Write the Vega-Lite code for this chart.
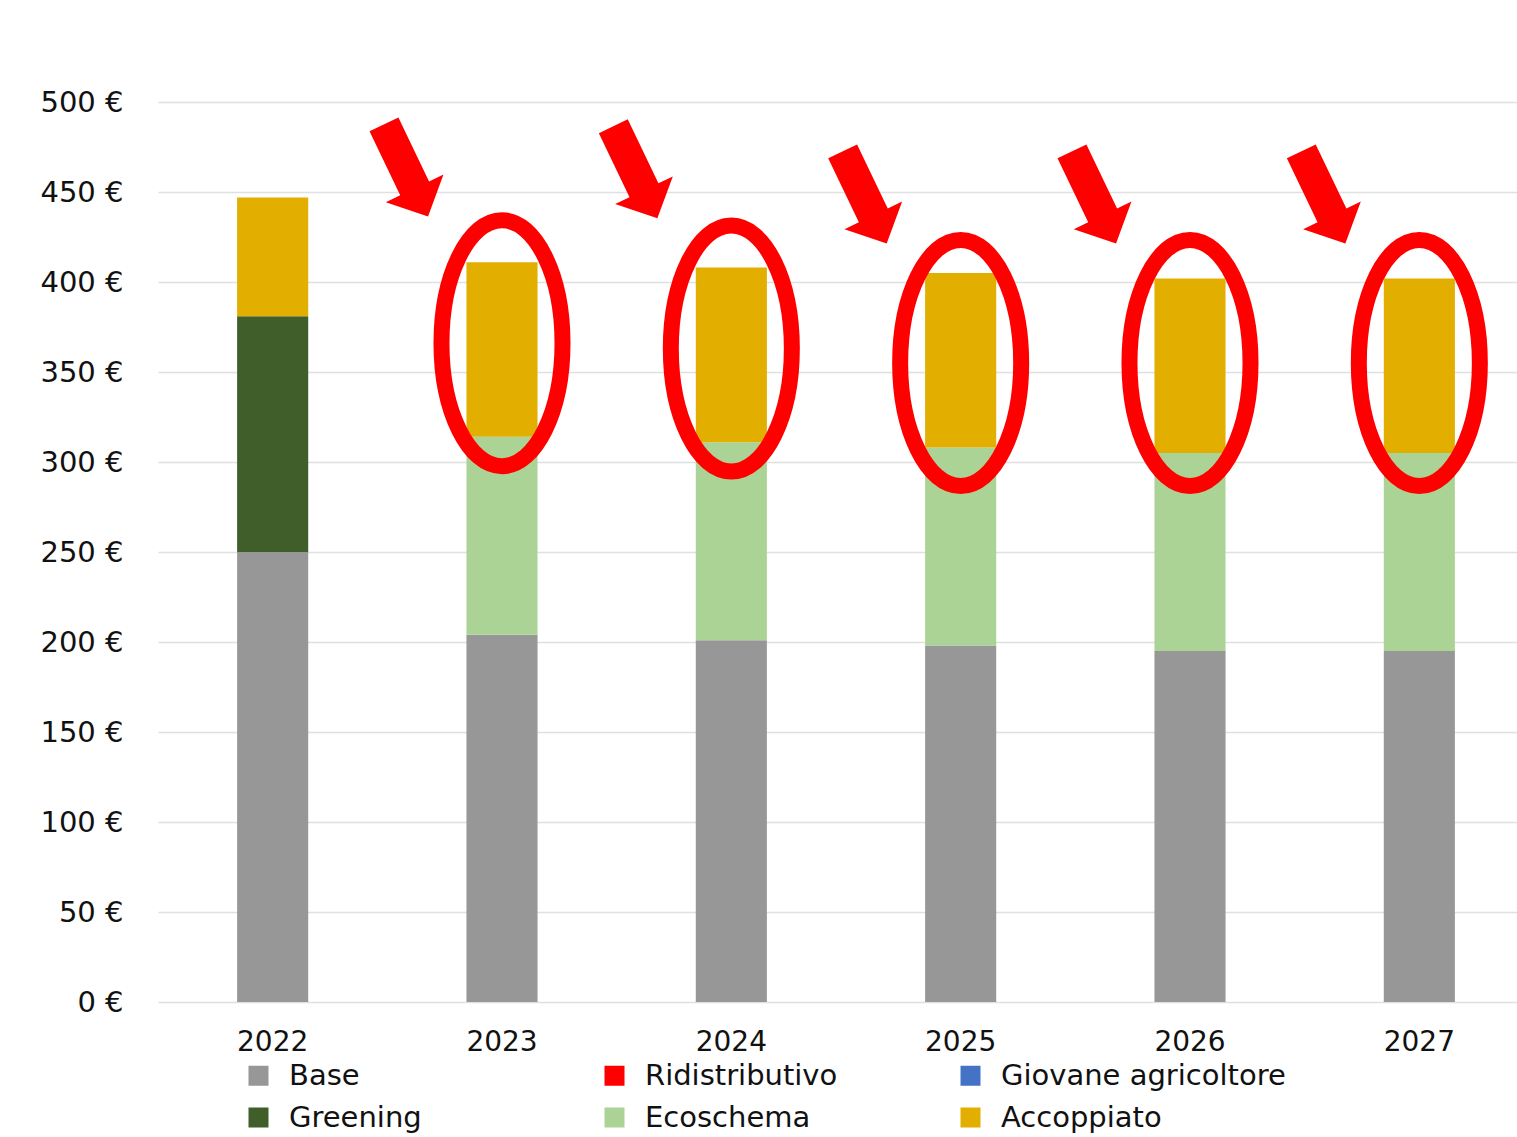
{
  "$schema": "https://vega.github.io/schema/vega-lite/v6.json",
  "width": 1376,
  "height": 900,
  "autosize": "none",
  "padding": {"left": 158, "top": 102, "right": 0, "bottom": 135},
  "background": "white",
  "config": {
    "view": {"stroke": null},
    "font": "DejaVu Sans"
  },
  "datasets": {
    "payments": [
      {"year": "2022", "component": "Base", "series_no": 1, "value": 250},
      {"year": "2022", "component": "Greening", "series_no": 2, "value": 131},
      {"year": "2022", "component": "Accoppiato", "series_no": 6, "value": 66},
      {"year": "2023", "component": "Base", "series_no": 1, "value": 204},
      {"year": "2023", "component": "Ecoschema", "series_no": 4, "value": 110},
      {"year": "2023", "component": "Accoppiato", "series_no": 6, "value": 97},
      {"year": "2024", "component": "Base", "series_no": 1, "value": 201},
      {"year": "2024", "component": "Ecoschema", "series_no": 4, "value": 110},
      {"year": "2024", "component": "Accoppiato", "series_no": 6, "value": 97},
      {"year": "2025", "component": "Base", "series_no": 1, "value": 198},
      {"year": "2025", "component": "Ecoschema", "series_no": 4, "value": 110},
      {"year": "2025", "component": "Accoppiato", "series_no": 6, "value": 97},
      {"year": "2026", "component": "Base", "series_no": 1, "value": 195},
      {"year": "2026", "component": "Ecoschema", "series_no": 4, "value": 110},
      {"year": "2026", "component": "Accoppiato", "series_no": 6, "value": 97},
      {"year": "2027", "component": "Base", "series_no": 1, "value": 195},
      {"year": "2027", "component": "Ecoschema", "series_no": 4, "value": 110},
      {"year": "2027", "component": "Accoppiato", "series_no": 6, "value": 97}
    ],
    "circles": [
      {"year": "2023", "value": 366},
      {"year": "2024", "value": 363},
      {"year": "2025", "value": 355},
      {"year": "2026", "value": 355},
      {"year": "2027", "value": 355}
    ],
    "arrows": [
      {"year": "2023", "value": 462},
      {"year": "2024", "value": 461},
      {"year": "2025", "value": 447},
      {"year": "2026", "value": 447},
      {"year": "2027", "value": 447}
    ]
  },
  "layer": [
    {
      "data": {"name": "payments"},
      "mark": {"type": "bar"},
      "encoding": {
        "x": {
          "field": "year",
          "type": "ordinal",
          "scale": {"paddingInner": 0.69, "paddingOuter": 0.345},
          "axis": {
            "title": null,
            "labelAngle": 0,
            "labelFont": "DejaVu Sans",
            "labelFontSize": 28,
            "labelColor": "#111111",
            "labelPadding": 26,
            "ticks": false,
            "tickSize": 0,
            "domain": false,
            "grid": false
          }
        },
        "y": {
          "field": "value",
          "type": "quantitative",
          "stack": "zero",
          "scale": {"domain": [0, 500]},
          "axis": {
            "title": null,
            "values": [0, 50, 100, 150, 200, 250, 300, 350, 400, 450, 500],
            "labelExpr": "datum.value + ' €'",
            "labelFont": "DejaVu Sans",
            "labelFontSize": 29,
            "labelColor": "#111111",
            "labelPadding": 35,
            "ticks": false,
            "tickSize": 0,
            "domain": false,
            "grid": true,
            "gridColor": "#e0e0e0",
            "gridWidth": 1.5
          }
        },
        "order": {"field": "series_no", "type": "quantitative", "sort": "ascending"},
        "color": {
          "field": "component",
          "type": "nominal",
          "sort": ["Base", "Greening", "Ridistributivo", "Ecoschema", "Giovane agricoltore", "Accoppiato"],
          "scale": {
            "domain": ["Base", "Greening", "Ridistributivo", "Ecoschema", "Giovane agricoltore", "Accoppiato"],
            "range": ["#979797", "#3f5e2a", "#ff0000", "#abd395", "#4472c4", "#e2ae00"]
          },
          "legend": {
            "title": null,
            "orient": "none",
            "legendX": 86,
            "legendY": 959,
            "columns": 3,
            "gridAlign": "all",
            "columnPadding": 26,
            "rowPadding": 12,
            "padding": 0,
            "symbolType": "square",
            "symbolSize": 400,
            "symbolStrokeWidth": 0,
            "labelFont": "DejaVu Sans",
            "labelFontSize": 29,
            "labelColor": "#111111",
            "labelOffset": 16,
            "labelLimit": 400
          }
        }
      }
    },
    {
      "data": {"name": "circles"},
      "mark": {
        "type": "point",
        "shape": "M0,-1 C0.2717,-1 0.492,-0.5523 0.492,0 C0.492,0.5523 0.2717,1 0,1 C-0.2717,1 -0.492,0.5523 -0.492,0 C-0.492,-0.5523 -0.2717,-1 0,-1 Z",
        "size": 60516,
        "filled": false,
        "fill": null,
        "stroke": "#ff0000",
        "strokeWidth": 16,
        "opacity": 1
      },
      "encoding": {
        "x": {"field": "year", "type": "ordinal"},
        "y": {"field": "value", "type": "quantitative"}
      }
    },
    {
      "data": {"name": "arrows"},
      "mark": {
        "type": "point",
        "shape": "M-0.314,-1 L0.314,-1 L0.314,0.392 L0.627,0.392 L0,1 L-0.627,0.392 L-0.314,0.392 Z",
        "size": 10404,
        "filled": true,
        "color": "#ff0000",
        "opacity": 1,
        "angle": -25.6,
        "xOffset": -96
      },
      "encoding": {
        "x": {"field": "year", "type": "ordinal"},
        "y": {"field": "value", "type": "quantitative"}
      }
    }
  ]
}
